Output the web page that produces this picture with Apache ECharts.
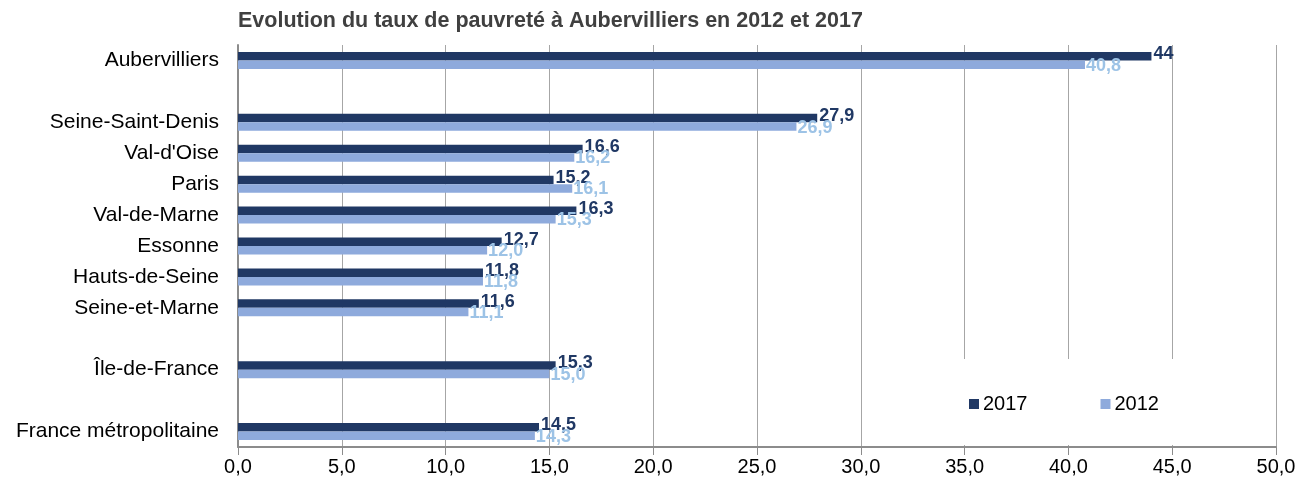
<!DOCTYPE html>
<html>
<head>
<meta charset="utf-8">
<script src="https://cdn.jsdelivr.net/npm/echarts@6/dist/echarts.min.js"></script>
<style>
html,body{margin:0;padding:0;background:#fff;}
#chart{width:1299px;height:484px;}
</style>
</head>
<body>
<div id="chart"></div>
<script>
const categories = ['Aubervilliers', ' ', 'Seine-Saint-Denis', "Val-d'Oise", 'Paris', 'Val-de-Marne', 'Essonne', 'Hauts-de-Seine', 'Seine-et-Marne', '  ', 'Île-de-France', '   ', 'France métropolitaine'];
const values2017 = [44, null, 27.9, 16.6, 15.2, 16.3, 12.7, 11.8, 11.6, null, 15.3, null, 14.5];
const values2012 = [40.8, null, 26.9, 16.2, 16.1, 15.3, 12.0, 11.8, 11.1, null, 15.0, null, 14.3];
const labels2017 = ['44', '', '27,9', '16,6', '15,2', '16,3', '12,7', '11,8', '11,6', '', '15,3', '', '14,5'];
const labels2012 = ['40,8', '', '26,9', '16,2', '16,1', '15,3', '12,0', '11,8', '11,1', '', '15,0', '', '14,3'];
const xTicks = {min: 0, max: 50, interval: 5};

const FONT = 'Liberation Sans, Arial, sans-serif';
const chart = echarts.init(document.getElementById('chart'));
chart.setOption({
  animation: false,
  backgroundColor: '#fff',
  title: {
    text: 'Evolution du taux de pauvreté à Aubervilliers en 2012 et 2017',
    left: 233, top: 5,
    textStyle: {fontFamily: FONT, fontSize: 21.5, fontWeight: 'bold', color: '#404040'}
  },
  grid: {left: 238, right: 23, top: 45, bottom: 37, containLabel: false},
  legend: {
    data: ['2017', '2012'],
    left: 964, top: 389, z: 10,
    orient: 'horizontal',
    icon: 'rect', itemWidth: 10, itemHeight: 10, itemGap: 73,
    textStyle: {fontFamily: FONT, fontSize: 20, color: '#000', padding: [0, 0, 0, -1]}
  },
  graphic: [{
    type: 'rect', z: 5,
    shape: {x: 900, y: 359, width: 340, height: 86},
    style: {fill: '#fff'}
  }],
  xAxis: {
    type: 'value', min: xTicks.min, max: xTicks.max, interval: xTicks.interval,
    axisLine: {show: true, lineStyle: {color: '#8c8c8c', width: 2}},
    axisTick: {show: true, length: 8, lineStyle: {color: '#8c8c8c', width: 1}},
    splitLine: {show: true, lineStyle: {color: '#a6a6a6', width: 1}},
    axisLabel: {
      fontFamily: FONT, fontSize: 20, color: '#000', margin: 10,
      formatter: v => v.toFixed(1).replace('.', ',')
    }
  },
  yAxis: {
    type: 'category', inverse: true, data: categories,
    axisLine: {show: true, lineStyle: {color: '#8c8c8c', width: 2}},
    axisTick: {show: false},
    splitLine: {show: false},
    axisLabel: {fontFamily: FONT, fontSize: 21, color: '#000', margin: 19, interval: 0}
  },
  series: [
    {
      name: '2017', type: 'bar', data: values2017,
      barWidth: 8.5, barGap: '0%',
      itemStyle: {color: '#203864'},
      label: {
        show: true, position: 'right', distance: 2, offset: [0, -2],
        fontFamily: FONT, fontSize: 18, fontWeight: 'bold', color: '#203864',
        formatter: p => labels2017[p.dataIndex]
      }
    },
    {
      name: '2012', type: 'bar', data: values2012,
      barWidth: 8.5, barGap: '0%',
      itemStyle: {color: '#8eaadc'},
      label: {
        show: true, position: 'right', distance: 1, offset: [0, 1],
        fontFamily: FONT, fontSize: 18, fontWeight: 'bold', color: '#9dc3e6',
        formatter: p => labels2012[p.dataIndex]
      }
    }
  ]
});
</script>
</body>
</html>
